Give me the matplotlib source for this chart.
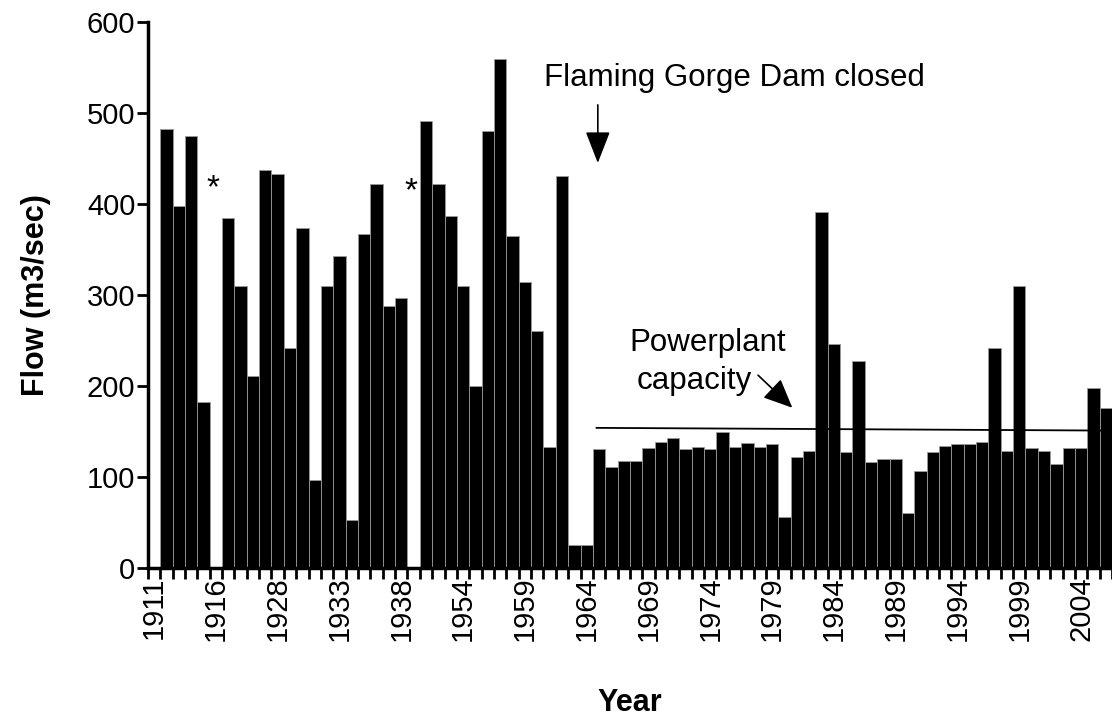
import numpy as np
import matplotlib.pyplot as plt

plt.rcParams['font.family'] = ['Liberation Sans', 'DejaVu Sans']

years = ([1911, 1912, 1913, 1914, 1915, 1916, 1917, 1918, 1926, 1927]
         + list(range(1928, 1941)) + [1952, 1953] + list(range(1954, 2007)))
flow = [0, 482, 398, 475, 182, 0, 385, 310, 211, 437,
        433, 242, 374, 97, 310, 343, 53, 367, 422, 288,
        297, 0, 491, 422, 387, 310, 200, 480, 559, 365,
        314, 260, 133, 431, 25, 25, 131, 111, 118, 118,
        132, 138, 143, 131, 133, 131, 149, 133, 137, 133,
        136, 56, 122, 129, 391, 246, 127, 228, 117, 120,
        120, 60, 107, 127, 134, 136, 136, 138, 242, 129,
        310, 132, 129, 114, 132, 132, 198, 176]
missing_years = [1916, 1939]
capacity = [154, 151]
dam_year = 1965

x = np.arange(len(years))

fig = plt.figure(figsize=(11.12, 7.17), dpi=100)
ax = fig.add_axes([0.133, 0.2078, 0.867, 0.7615])

ax.bar(x, flow, width=1.0, color='black', edgecolor='#9a9a9a', linewidth=0.6)

ax.set_xlim(-0.5, len(years) - 0.5)
ax.set_ylim(0, 600)
ax.set_yticks(range(0, 601, 100))

ax.set_xticks(x[::5])
ax.set_xticklabels([str(y) for y in years[::5]], rotation=90, fontsize=21)
ax.set_xticks(np.arange(-0.5, len(years)), minor=True)
ax.tick_params(axis='x', which='major', length=0, pad=6)
ax.tick_params(axis='x', which='minor', length=8, width=2, direction='out')
ax.tick_params(axis='y', length=8, width=2, direction='out', labelsize=21, pad=1)

for side in ['top', 'right']:
    ax.spines[side].set_visible(False)
ax.spines['left'].set_linewidth(2.5)
ax.spines['bottom'].set_linewidth(2.5)

ax.set_ylabel('Flow (m3/sec)', fontsize=22, fontweight='bold', labelpad=26)
ax.set_xlabel('Year', fontsize=22, fontweight='bold', labelpad=34)

# missing-data markers
for yr, h in zip(missing_years, [417, 414]):
    ax.text(years.index(yr) - 0.2, h, '*', fontsize=24, ha='center', va='center')

# dam closure
xd = years.index(dam_year) - 0.1
ax.text(46.95, 538, 'Flaming Gorge Dam closed', fontsize=22.5, ha='center', va='center')
ax.annotate('', xy=(xd, 442), xytext=(xd, 512),
            arrowprops=dict(arrowstyle='-|>,head_length=0.9,head_width=0.35',
                            mutation_scale=22, color='black', lw=1.2))

# powerplant capacity
ax.plot([35.8, len(years) - 0.5], capacity, color='black', lw=1.3, clip_on=False)
ax.text(44.77, 247, 'Powerplant', fontsize=22.5, ha='center', va='center')
ax.text(43.7, 205, 'capacity', fontsize=22.5, ha='center', va='center')
ax.annotate('', xy=(51.8, 174), xytext=(48.7, 214),
            arrowprops=dict(arrowstyle='-|>,head_length=0.9,head_width=0.4',
                            mutation_scale=20, color='black', lw=1.2))

plt.savefig('out.png', dpi=100)
